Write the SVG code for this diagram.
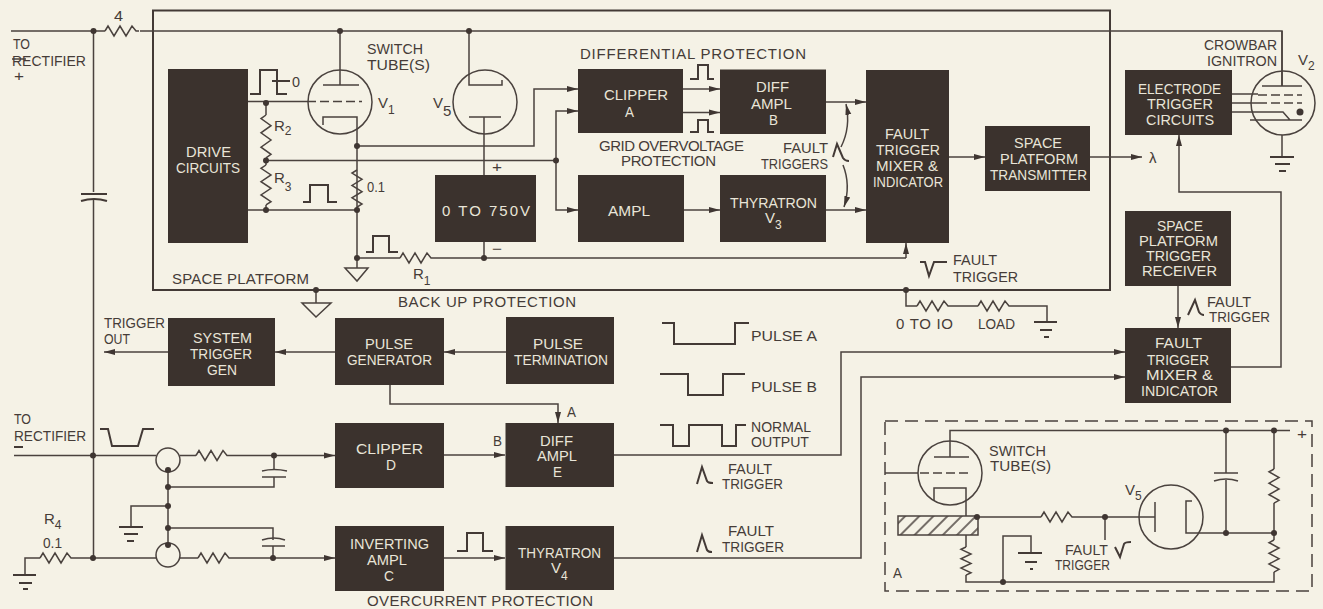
<svg xmlns="http://www.w3.org/2000/svg" width="1323" height="609" viewBox="0 0 1323 609">
<style>
text{font-family:"Liberation Sans",Arial,sans-serif;font-size:15px;fill:#453c38}
.b rect{fill:#3b322d}
.b text{fill:#e9e5d8}
.w{fill:none;stroke:#4a423e;stroke-width:1.5;stroke-linejoin:miter}
.k{fill:none;stroke:#433a36;stroke-width:2}
.a{fill:none;stroke:#4a423e;stroke-width:1.5;marker-end:url(#ah)}
.d{fill:#3f3632}
.s{font-size:12px}
.v{font-size:15px}
</style>
<defs>
<marker id="ah" markerUnits="userSpaceOnUse" markerWidth="12" markerHeight="8" refX="11" refY="4" orient="auto"><path d="M0 1 L11 4 L0 7 Z" fill="#3f3632"/></marker>
<path id="rh" d="M0 0 L3 -5 L9 5 L15 -5 L21 5 L27 -5 L31 0 L34 0" fill="none" stroke="#4a423e" stroke-width="1.5"/>
<path id="rv" d="M0 0 L-5 3 L5 9 L-5 15 L5 21 L-5 27 L5 33 L0 36" fill="none" stroke="#4a423e" stroke-width="1.5" vector-effect="non-scaling-stroke"/>
<pattern id="hatch" patternUnits="userSpaceOnUse" width="10" height="10" patternTransform="rotate(45)"><rect width="10" height="10" fill="#f5f2e6"/><line x1="5" y1="0" x2="5" y2="10" stroke="#4a423e" stroke-width="1.5"/></pattern>
</defs>
<rect width="1323" height="609" fill="#f5f2e6"/>

<g id="connectors">
<rect class="k" x="153" y="10.5" width="957" height="279.5"/>
<path class="w" d="M11 31H105M140 31H1282V86M93.500 31V192M93.500 200V558"/>
<use href="#rh" x="105" y="31"/>
<path class="k" d="M81 194H107M81 201Q94 197 107 201"/>
<path class="w" d="M340 31V85M323 85H359M248 101.500H307M323 125V117H357V258M266 101.500V115M266 158V165M266 205V210M248 210H357M357 170V146M357 207V258"/>
<path class="w" d="M307 101.500H362" stroke-dasharray="9 4"/>
<circle class="w" cx="340" cy="102" r="32"/>
<use href="#rv" transform="translate(266,115) scale(1,1.190)"/>
<use href="#rv" transform="translate(266,165) scale(1,1.110)"/>
<use href="#rv" transform="translate(357,170) scale(1,1.030)"/>
<path class="a" d="M357 146H534V89H578"/>
<path class="w" d="M266 160.500H556"/>
<path class="a" d="M556 160.500V111H578"/>
<path class="a" d="M556 160.500V210H578"/>
<path class="w" d="M469 31V85H502V80M469 117H501M484 117V175M484 242V258"/>
<circle class="w" cx="485" cy="102" r="32"/>
<path class="w" d="M357 258H400M434 258H906"/>
<use href="#rh" x="400" y="258"/>
<path class="a" d="M906 258V243"/>
<path class="w" d="M357 258V268M345 268H368L357 281Z"/>
<path class="w" d="M316 290V303M302 303H331L316 317Z"/>
<path class="a" d="M683 89H720"/><path class="a" d="M683 112.500H720"/>
<path class="a" d="M684 210H720"/>
<path class="a" d="M826 102H866"/><path class="a" d="M826 210H866"/>
<path class="a" d="M949 157H985"/><path class="a" d="M1090 157H1142"/>
<path class="a" d="M841 147Q851 127 846 104"/><path class="a" d="M843 165Q851 185 844 207"/>
<path class="k" d="M250 94H260V70H277V94H287M272 81H290"/>
<path class="k" d="M303 202H310V185H328V202H337"/>
<path class="k" d="M366 252H373V236H389V252H398"/>
<path class="k" d="M690 79H698V65H708V79H714"/>
<path class="k" d="M690 132H698V120H708V132H714"/>
<path class="k" d="M833 157L837 144L843 158Q845 161 849 161"/>
<path class="k" d="M920 262H925L929 276L934 262H947"/>
<path class="k" d="M1188 315L1195 300L1199 312Q1201 315 1204 315"/>
<path class="k" d="M100 429H108L112 446H138L143 429H154"/>
<path class="k" d="M457 551H467V533H483V551H493"/>
<path class="k" d="M662 323H674V344H735V323H749"/>
<path class="k" d="M660 374H688V395H723V374H745"/>
<path class="k" d="M660 425H673V446H689V425H722V446H736V425H746"/>
<path class="k" d="M697 484L702 467L707 481Q708 483 713 483"/>
<path class="k" d="M697 552L702 535L707 550Q708 552 712 552"/>
<path class="k" d="M1115 547L1120 557L1124 544Q1125 542 1131 542"/>
<path class="w" d="M1282 31V86M1262 86H1302M1232 94H1258M1232 103H1258M1232 112H1283L1290 120M1250 120H1302M1282 135V157"/>
<path class="w" d="M1258 95H1302M1258 103H1302" stroke-dasharray="9 4"/>
<circle class="w" cx="1283" cy="103" r="32"/>
<path class="k" d="M1270 157H1294M1275 164H1290M1279 171H1286"/>
<path class="a" d="M1231 367H1281V192H1179V135"/>
<path class="a" d="M1178 286V328"/>
<path class="a" d="M614 455H841V352H1125"/>
<path class="a" d="M614 558H861V377H1125"/>
<path class="w" d="M906 290V306H917M951 306H978M1012 306H1047V322"/>
<use href="#rh" x="917" y="306"/><use href="#rh" x="978" y="306"/>
<path class="k" d="M1034 322H1057M1040 330H1052M1044 337H1049"/>
<path class="a" d="M168 352H104"/><path class="a" d="M335 352H275"/><path class="a" d="M506 352H444"/>
<path class="a" d="M390 385V404H558V423"/>
<path class="a" d="M444 455H505"/><path class="a" d="M444 558H505"/>
<path class="w" d="M14 455.500H156M180 455.500H196M230 455.500H274"/>
<use href="#rh" x="196" y="455.500"/>
<path class="a" d="M274 455.500H335"/>
<circle class="w" cx="168" cy="460" r="12"/><circle class="w" cx="168" cy="555" r="12"/>
<path class="w" d="M168 470V545M168 487H274V477M274 455.500V470M168 506H131V527M168 528H273V540M273 546V558"/>
<path class="w" d="M262 471Q274 468 287 471M262 477H286M262 540Q274 536 285 540M262 546H285"/>
<path class="k" d="M119 527H143M124 534H138M127 541H134"/>
<path class="w" d="M25 575V558H40M74 558H156M180 558H198M232 558H273"/>
<use href="#rh" x="40" y="558"/><use href="#rh" x="198" y="558"/>
<path class="a" d="M273 558H335"/>
<path class="k" d="M13 575H36M19 583H32M23 589H28M14 447H23"/>
<path class="w" d="M12 59H26"/>
<rect x="885" y="421" width="427" height="170" fill="none" stroke="#4a423e" stroke-width="1.500" stroke-dasharray="13 7"/>
<path class="w" d="M950 457V430.500H1290M934 457H969M885 473H918M934 501V488H966V516"/>
<path class="w" d="M920 473H968" stroke-dasharray="9 4"/>
<circle class="w" cx="950" cy="473" r="32"/>
<rect x="898" y="516" width="80" height="19" fill="url(#hatch)" stroke="#4a423e" stroke-width="1.500"/>
<path class="w" d="M966 535V547M966 575V582H1274V572M1003 582V536H1031V553M978 517H1041M1075 517H1155M1155 502V532M1105 517V540"/>
<use href="#rh" x="1041" y="517"/>
<use href="#rv" transform="translate(966,547) scale(1,0.780)"/>
<path class="k" d="M1018 553H1042M1025 562H1037M1030 569H1033"/>
<circle class="w" cx="1171" cy="517" r="32"/>
<path class="w" d="M1192 501H1186V533H1274M1226 430.500V473M1226 480V533M1274 430.500V469M1274 503V540"/>
<path class="w" d="M1214 473H1238M1214 481Q1226 477 1238 481"/>
<use href="#rv" transform="translate(1274,469) scale(1,0.950)"/>
<use href="#rv" transform="translate(1274,540) scale(1,0.890)"/>
<g class="d">
<circle cx="93.500" cy="31" r="3"/><circle cx="340" cy="31" r="3"/><circle cx="469" cy="31" r="3"/>
<circle cx="266" cy="103" r="3"/><circle cx="266" cy="160.500" r="3"/><circle cx="266" cy="210" r="3"/>
<circle cx="357" cy="146" r="3"/><circle cx="357" cy="210" r="3"/><circle cx="357" cy="258" r="3"/>
<circle cx="556" cy="160.500" r="3"/><circle cx="484" cy="258" r="3"/><circle cx="316" cy="290" r="3"/><circle cx="906" cy="290" r="3"/>
<circle cx="93" cy="455.500" r="3"/><circle cx="93" cy="558" r="3"/><circle cx="274" cy="455.500" r="3"/><circle cx="273" cy="558" r="3"/>
<circle cx="168" cy="470" r="3"/><circle cx="168" cy="487" r="3"/><circle cx="168" cy="506" r="3"/><circle cx="168" cy="528" r="3"/><circle cx="168" cy="545" r="3"/>
<circle cx="977" cy="517" r="3"/><circle cx="1003" cy="582" r="3"/><circle cx="1105" cy="517" r="3"/><circle cx="1226" cy="430.500" r="3"/><circle cx="1274" cy="430.500" r="3"/><circle cx="1226" cy="533" r="3"/><circle cx="1274" cy="533" r="3"/>
<circle cx="1300" cy="112" r="3.500"/>
</g>
</g>

<g id="drive-circuits" class="b"><rect x="168" y="69" width="80" height="174"/><text x="186" y="157" textLength="45" lengthAdjust="spacingAndGlyphs">DRIVE</text><text x="176" y="173" textLength="64" lengthAdjust="spacingAndGlyphs">CIRCUITS</text></g>
<g id="supply-750v" class="b"><rect x="435" y="175" width="101" height="67"/><text x="442" y="216" textLength="88">0 TO 750V</text></g>
<g id="clipper-a" class="b"><rect x="578" y="69" width="105" height="64"/><text x="604" y="100" textLength="64" lengthAdjust="spacingAndGlyphs">CLIPPER</text><text x="625" y="117" textLength="9" lengthAdjust="spacingAndGlyphs">A</text></g>
<g id="diff-ampl-b" class="b"><rect x="720" y="69.500" width="106" height="64.500"/><text x="756" y="92" textLength="33" lengthAdjust="spacingAndGlyphs">DIFF</text><text x="751" y="109" textLength="41" lengthAdjust="spacingAndGlyphs">AMPL</text><text x="769" y="125" textLength="9" lengthAdjust="spacingAndGlyphs">B</text></g>
<g id="ampl" class="b"><rect x="578" y="175" width="106" height="67"/><text x="608" y="216" textLength="42" lengthAdjust="spacingAndGlyphs">AMPL</text></g>
<g id="thyratron-v3" class="b"><rect x="720" y="175" width="106" height="67"/><text x="730" y="208" textLength="87" lengthAdjust="spacingAndGlyphs">THYRATRON</text><text x="765" y="223">V<tspan class="s" dy="6">3</tspan></text></g>
<g id="fault-mixer-1" class="b"><rect x="866" y="70" width="83" height="173"/><text x="885" y="139" textLength="44" lengthAdjust="spacingAndGlyphs">FAULT</text><text x="876" y="155" textLength="64" lengthAdjust="spacingAndGlyphs">TRIGGER</text><text x="876" y="171" textLength="62" lengthAdjust="spacingAndGlyphs">MIXER &amp;</text><text x="873" y="187" textLength="70" lengthAdjust="spacingAndGlyphs">INDICATOR</text></g>
<g id="space-transmitter" class="b"><rect x="985" y="126" width="105" height="65"/><text x="1014" y="148" textLength="48" lengthAdjust="spacingAndGlyphs">SPACE</text><text x="1000" y="164" textLength="78" lengthAdjust="spacingAndGlyphs">PLATFORM</text><text x="990" y="180" textLength="97" lengthAdjust="spacingAndGlyphs">TRANSMITTER</text></g>
<g id="electrode-trigger" class="b"><rect x="1125" y="70" width="107" height="65"/><text x="1138" y="94" textLength="83" lengthAdjust="spacingAndGlyphs">ELECTRODE</text><text x="1147" y="109" textLength="66" lengthAdjust="spacingAndGlyphs">TRIGGER</text><text x="1146" y="125" textLength="68" lengthAdjust="spacingAndGlyphs">CIRCUITS</text></g>
<g id="space-receiver" class="b"><rect x="1125" y="211" width="106" height="75"/><text x="1157" y="231" textLength="46" lengthAdjust="spacingAndGlyphs">SPACE</text><text x="1139" y="246" textLength="79" lengthAdjust="spacingAndGlyphs">PLATFORM</text><text x="1146" y="261" textLength="65" lengthAdjust="spacingAndGlyphs">TRIGGER</text><text x="1142" y="276" textLength="75" lengthAdjust="spacingAndGlyphs">RECEIVER</text></g>
<g id="fault-mixer-2" class="b"><rect x="1125" y="328" width="106" height="75"/><text x="1155" y="348" textLength="47" lengthAdjust="spacingAndGlyphs">FAULT</text><text x="1147" y="365" textLength="62" lengthAdjust="spacingAndGlyphs">TRIGGER</text><text x="1146" y="380" textLength="67" lengthAdjust="spacingAndGlyphs">MIXER &amp;</text><text x="1141" y="396" textLength="77" lengthAdjust="spacingAndGlyphs">INDICATOR</text></g>
<g id="system-trigger-gen" class="b"><rect x="168" y="318" width="107" height="68"/><text x="193" y="343" textLength="59" lengthAdjust="spacingAndGlyphs">SYSTEM</text><text x="190" y="359" textLength="62" lengthAdjust="spacingAndGlyphs">TRIGGER</text><text x="207" y="375" textLength="30" lengthAdjust="spacingAndGlyphs">GEN</text></g>
<g id="pulse-generator" class="b"><rect x="335" y="318" width="109" height="67"/><text x="365" y="349" textLength="48" lengthAdjust="spacingAndGlyphs">PULSE</text><text x="347" y="365" textLength="85" lengthAdjust="spacingAndGlyphs">GENERATOR</text></g>
<g id="pulse-termination" class="b"><rect x="506" y="317" width="108" height="67"/><text x="533" y="349" textLength="50" lengthAdjust="spacingAndGlyphs">PULSE</text><text x="514" y="365" textLength="94" lengthAdjust="spacingAndGlyphs">TERMINATION</text></g>
<g id="clipper-d" class="b"><rect x="335" y="423" width="109" height="65"/><text x="356" y="454" textLength="67" lengthAdjust="spacingAndGlyphs">CLIPPER</text><text x="386" y="470" textLength="10" lengthAdjust="spacingAndGlyphs">D</text></g>
<g id="diff-ampl-e" class="b"><rect x="505.500" y="423" width="108.500" height="64"/><text x="540" y="446" textLength="33" lengthAdjust="spacingAndGlyphs">DIFF</text><text x="537" y="461" textLength="40" lengthAdjust="spacingAndGlyphs">AMPL</text><text x="553" y="477" textLength="9" lengthAdjust="spacingAndGlyphs">E</text></g>
<g id="inverting-ampl-c" class="b"><rect x="335" y="526" width="109" height="65"/><text x="350" y="549" textLength="79" lengthAdjust="spacingAndGlyphs">INVERTING</text><text x="367" y="565" textLength="40" lengthAdjust="spacingAndGlyphs">AMPL</text><text x="384" y="581" textLength="10" lengthAdjust="spacingAndGlyphs">C</text></g>
<g id="thyratron-v4" class="b"><rect x="505.500" y="526" width="108.500" height="64"/><text x="518" y="558" textLength="83" lengthAdjust="spacingAndGlyphs">THYRATRON</text><text x="551" y="573">V<tspan class="s" dy="7">4</tspan></text></g>

<g id="labels">
<text x="114" y="21" textLength="9" lengthAdjust="spacingAndGlyphs">4</text>
<text x="13" y="49" textLength="17" lengthAdjust="spacingAndGlyphs">TO</text>
<text x="12" y="65.500" textLength="74" lengthAdjust="spacingAndGlyphs">RECTIFIER</text>
<text x="14" y="81" textLength="10" lengthAdjust="spacingAndGlyphs">+</text>
<text x="367" y="54" textLength="56" lengthAdjust="spacingAndGlyphs">SWITCH</text>
<text x="367" y="70" textLength="63" lengthAdjust="spacingAndGlyphs">TUBE(S)</text>
<text x="292" y="87" textLength="8" lengthAdjust="spacingAndGlyphs">0</text>
<text x="378" y="108">V<tspan class="s" dy="6">1</tspan></text>
<text x="433" y="108">V<tspan class="v" dy="8">5</tspan></text>
<text x="274" y="131">R<tspan class="s" dy="4">2</tspan></text>
<text x="274" y="183">R<tspan class="s" dy="8">3</tspan></text>
<text x="367" y="192" textLength="18" lengthAdjust="spacingAndGlyphs">0.1</text>
<text x="413" y="279">R<tspan class="s" dy="6">1</tspan></text>
<text x="172" y="284" textLength="137">SPACE PLATFORM</text>
<text x="398" y="307" textLength="178">BACK UP PROTECTION</text>
<text x="492" y="172" textLength="10" lengthAdjust="spacingAndGlyphs">+</text>
<text x="492" y="254" textLength="10" lengthAdjust="spacingAndGlyphs">−</text>
<text x="580" y="59" textLength="226">DIFFERENTIAL PROTECTION</text>
<text x="599" y="151" textLength="145">GRID OVERVOLTAGE</text>
<text x="621" y="166" textLength="95">PROTECTION</text>
<text x="783" y="153" textLength="45" lengthAdjust="spacingAndGlyphs">FAULT</text>
<text x="761" y="169" textLength="67" lengthAdjust="spacingAndGlyphs">TRIGGERS</text>
<text x="1149" y="163">λ</text>
<text x="1204" y="50" textLength="73" lengthAdjust="spacingAndGlyphs">CROWBAR</text>
<text x="1207" y="66" textLength="70" lengthAdjust="spacingAndGlyphs">IGNITRON</text>
<text x="1298" y="65">V<tspan class="s" dy="5">2</tspan></text>
<text x="1207" y="307" textLength="44" lengthAdjust="spacingAndGlyphs">FAULT</text>
<text x="1209" y="322" textLength="61" lengthAdjust="spacingAndGlyphs">TRIGGER</text>
<text x="953" y="265" textLength="44" lengthAdjust="spacingAndGlyphs">FAULT</text>
<text x="953" y="282" textLength="65" lengthAdjust="spacingAndGlyphs">TRIGGER</text>
<text x="896" y="329" textLength="57">0 TO IO</text>
<text x="978" y="329" textLength="37" lengthAdjust="spacingAndGlyphs">LOAD</text>
<text x="104" y="328" textLength="61" lengthAdjust="spacingAndGlyphs">TRIGGER</text>
<text x="104" y="344" textLength="26" lengthAdjust="spacingAndGlyphs">OUT</text>
<text x="14" y="424" textLength="17" lengthAdjust="spacingAndGlyphs">TO</text>
<text x="14" y="441" textLength="72" lengthAdjust="spacingAndGlyphs">RECTIFIER</text>
<text x="44" y="524">R<tspan class="s" dy="5">4</tspan></text>
<text x="43" y="548" textLength="19" lengthAdjust="spacingAndGlyphs">0.1</text>
<text x="567" y="417" textLength="9" lengthAdjust="spacingAndGlyphs">A</text>
<text x="493" y="446" textLength="9" lengthAdjust="spacingAndGlyphs">B</text>
<text x="751" y="341" textLength="66" lengthAdjust="spacingAndGlyphs">PULSE A</text>
<text x="751" y="392" textLength="66" lengthAdjust="spacingAndGlyphs">PULSE B</text>
<text x="751" y="432" textLength="60" lengthAdjust="spacingAndGlyphs">NORMAL</text>
<text x="751" y="447" textLength="58" lengthAdjust="spacingAndGlyphs">OUTPUT</text>
<text x="728" y="474" textLength="44" lengthAdjust="spacingAndGlyphs">FAULT</text>
<text x="722" y="489" textLength="61" lengthAdjust="spacingAndGlyphs">TRIGGER</text>
<text x="728" y="536" textLength="46" lengthAdjust="spacingAndGlyphs">FAULT</text>
<text x="722" y="552" textLength="62" lengthAdjust="spacingAndGlyphs">TRIGGER</text>
<text x="367" y="606" textLength="226">OVERCURRENT PROTECTION</text>
<text x="893" y="578" textLength="9" lengthAdjust="spacingAndGlyphs">A</text>
<text x="989" y="456" textLength="57" lengthAdjust="spacingAndGlyphs">SWITCH</text>
<text x="990" y="471" textLength="61" lengthAdjust="spacingAndGlyphs">TUBE(S)</text>
<text x="1125" y="495">V<tspan class="s" dy="5">5</tspan></text>
<text x="1065" y="555" textLength="43" lengthAdjust="spacingAndGlyphs">FAULT</text>
<text x="1055" y="570" textLength="55" lengthAdjust="spacingAndGlyphs">TRIGGER</text>
<text x="1297" y="439" textLength="10" lengthAdjust="spacingAndGlyphs">+</text>
</g>
</svg>
